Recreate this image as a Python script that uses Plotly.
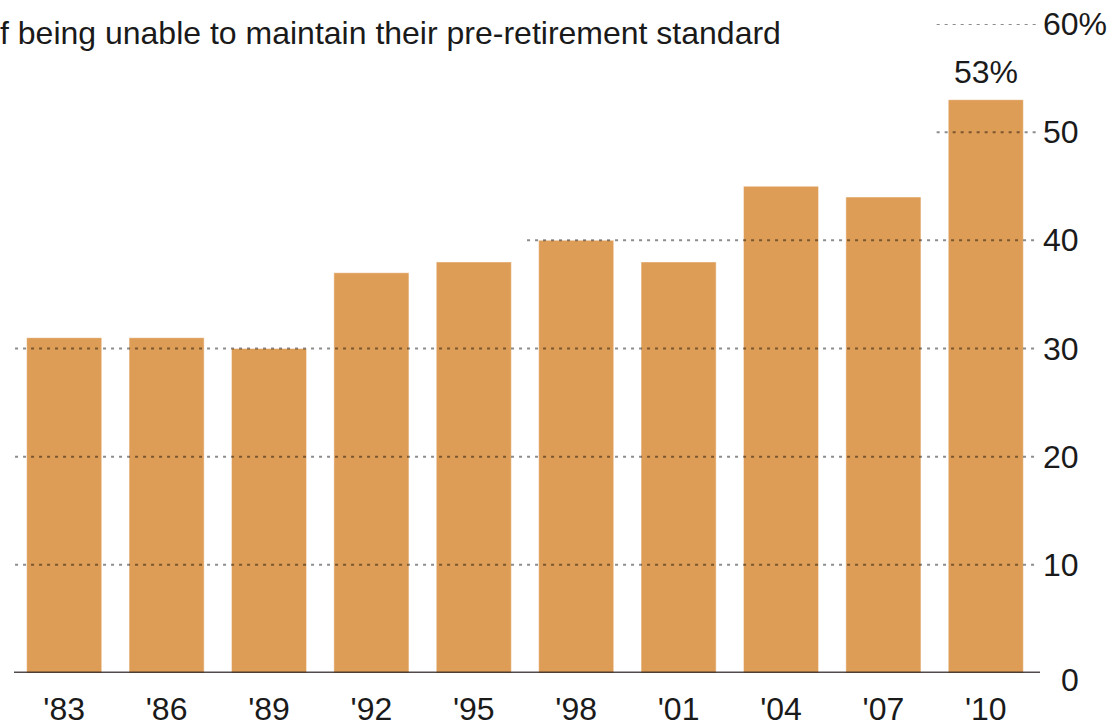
import plotly.graph_objects as go

# ---- data ----
years = ["'83", "'86", "'89", "'92", "'95", "'98", "'01", "'04", "'07", "'10"]
values = [31, 31, 30, 37, 38, 40, 38, 45, 44, 53]
y_ticks = [0, 10, 20, 30, 40, 50, 60]
y_tick_text = ["0", "10", "20", "30", "40", "50", "60%"]
title_text = "f being unable to maintain their pre-retirement standard"
last_label = "53%"

FONT = "Liberation Sans, Arial, sans-serif"
FS = 32
BAR = "#DE9D57"
TXT = "#1a1a1a"

W, H = 1109, 727
# target plot box on screen: x 13..1037, y 23.5..673
L = 13
T = 23.5
R = W - 1037
B = H - 673
PW = W - L - R
PH = H - T - B


def sx(px):
    """screen x pixel -> paper x"""
    return (px - L) / PW


def sy(py):
    """screen y pixel -> paper y"""
    return 1 - (py - T) / PH


xs = list(range(len(years)))

fig = go.Figure()
fig.add_trace(go.Bar(
    x=xs, y=values,
    marker=dict(color=BAR, line=dict(color="rgba(255,255,255,0.45)", width=1)),
    hoverinfo="skip",
))

shapes = []
# dotted gridlines starting at the first bar that reaches the level
for lv in y_ticks[1:]:
    start = next((i for i, v in enumerate(values) if v >= lv), len(values) - 1)
    shapes.append(dict(
        type="line", xref="x", yref="y",
        x0=start - 0.48, x1=len(values) - 0.5, y0=lv, y1=lv,
        line=dict(color="rgba(0,0,0,0.45)", width=2, dash="3px,5px"),
        layer="above",
    ))
# baseline
shapes.append(dict(
    type="line", xref="paper", yref="y", x0=sx(14), x1=sx(1040), y0=0, y1=0,
    line=dict(color="rgba(40,30,30,0.8)", width=3), layer="above",
))

annotations = []
for v, t in zip(y_ticks, y_tick_text):
    if t.endswith("%"):
        annotations.append(dict(
            xref="paper", yref="y", x=sx(1041), y=v, text=t, showarrow=False,
            xanchor="left", yanchor="middle",
            font=dict(family=FONT, size=FS, color=TXT),
        ))
    else:
        annotations.append(dict(
            xref="paper", yref="y", x=sx(1081), y=v, text=t, showarrow=False,
            xanchor="right", yanchor="middle", yshift=-7 if v == 0 else 0,
            font=dict(family=FONT, size=FS, color=TXT),
        ))

annotations.append(dict(
    xref="x", yref="y", x=xs[-1], y=values[-1], text=last_label,
    showarrow=False, xanchor="center", yanchor="bottom", yshift=8,
    font=dict(family=FONT, size=FS, color=TXT),
))
annotations.append(dict(
    xref="paper", yref="paper", x=sx(-2), y=sy(33),
    text=title_text, showarrow=False, xanchor="left", yanchor="middle",
    font=dict(family=FONT, size=FS, color=TXT),
))

fig.update_layout(
    width=W, height=H,
    margin=dict(l=L, r=R, t=T, b=B, autoexpand=False),
    paper_bgcolor="white", plot_bgcolor="white",
    showlegend=False, bargap=0.267, hovermode=False,
    shapes=shapes, annotations=annotations,
    xaxis=dict(
        tickmode="array", tickvals=xs, ticktext=years,
        range=[-0.5, len(values) - 0.5], automargin=False,
        showgrid=False, zeroline=False, showline=False,
        ticks="outside", ticklen=8, tickcolor="rgba(0,0,0,0)",
        tickfont=dict(family=FONT, size=FS, color=TXT),
    ),
    yaxis=dict(
        range=[0, 60], showgrid=False, zeroline=False, showline=False,
        showticklabels=False, ticks="", automargin=False,
    ),
)

fig.write_html(
    "out.html",
    config={"displayModeBar": False, "staticPlot": True},
    post_script="document.body.style.margin='0px';document.body.style.overflow='hidden';",
)
